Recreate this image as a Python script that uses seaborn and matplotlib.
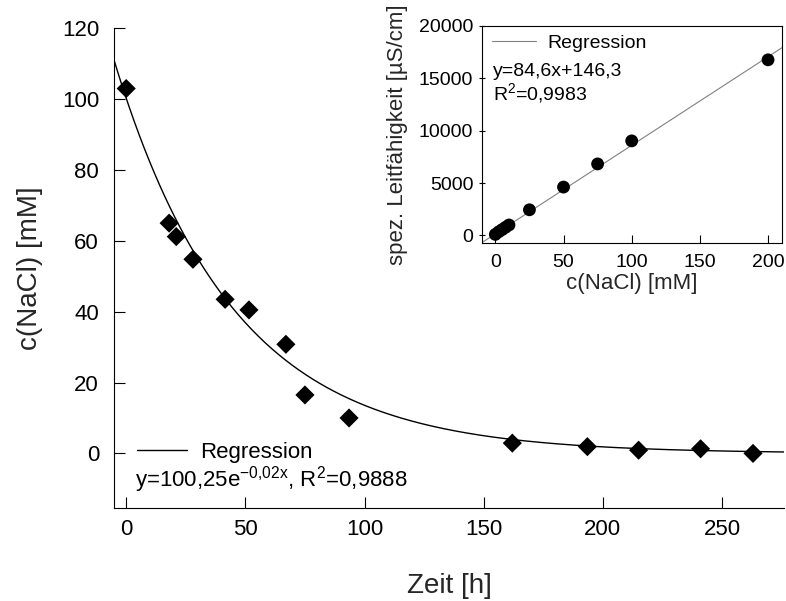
import numpy as np
import pandas as pd
import matplotlib
matplotlib.use("Agg")
import matplotlib.pyplot as plt
import seaborn as sns

# ---------------- data ----------------
# main panel: NaCl concentration over time
zeit_h = [0, 18, 21, 28, 41.5, 51.5, 67, 75, 93.5, 162, 193.5, 215, 241, 263]
c_nacl = [103, 65, 61.2, 54.8, 43.5, 40.5, 30.8, 16.5, 10.0, 2.9, 1.9, 0.9, 1.3, 0.0]
exp_a = 100.25      # regression y = a * exp(b x)
exp_b = -0.02
main_xticks = [0, 50, 100, 150, 200, 250]
main_yticks = [0, 20, 40, 60, 80, 100, 120]

# inset: calibration conductivity vs concentration
cal_c = [0, 2.5, 5, 7.5, 10, 25, 50, 75, 100, 200]
cal_g = [100, 350, 560, 780, 1000, 2450, 4620, 6830, 9030, 16770]
lin_m = 84.6        # regression y = m x + b
lin_b = 146.3
inset_xticks = [0, 50, 100, 150, 200]
inset_yticks = [0, 5000, 10000, 15000, 20000]

# ---------------- style ----------------
sns.set_style("ticks")
plt.rcParams["font.family"] = ["Liberation Sans", "DejaVu Sans"]
plt.rcParams["mathtext.fontset"] = "custom"
plt.rcParams["mathtext.rm"] = "Liberation Sans"
plt.rcParams["mathtext.it"] = "Liberation Sans:italic"
plt.rcParams["mathtext.default"] = "regular"
plt.rcParams["text.color"] = "black"

W, H = 786, 601
fig = plt.figure(figsize=(W / 100, H / 100), dpi=100)

def frac_box(l, t, r, b):
    return [l / W, 1 - b / H, (r - l) / W, (b - t) / H]

# ---------------- main axes ----------------
ax = fig.add_axes(frac_box(114.3, 28.3, 784, 508.3))
xfit = np.linspace(-5, 276, 400)
df_fit = pd.DataFrame({"x": xfit, "y": exp_a * np.exp(exp_b * xfit)})
sns.lineplot(data=df_fit, x="x", y="y", color="black", lw=1.0, ax=ax,
             label="Regression")
sns.scatterplot(x=zeit_h, y=c_nacl, marker="D", s=95, color="black",
                edgecolor="none", ax=ax, zorder=3)
ax.set_xlim(-5, 276)
ax.set_ylim(-15.5, 120)
ax.set_xticks(main_xticks)
ax.set_yticks(main_yticks)
ax.tick_params(axis="both", direction="in", length=8, width=0.8,
               labelsize=16, colors="black")
ax.tick_params(axis="x", pad=8)
ax.tick_params(axis="y", pad=11)
for side in ["top", "right"]:
    ax.spines[side].set_visible(False)
for side in ["left", "bottom"]:
    ax.spines[side].set_linewidth(0.8)
    ax.spines[side].set_color("black")
ax.set_xlabel("Zeit [h]", fontsize=20, va="center")
ax.set_ylabel("c(NaCl) [mM]", fontsize=20, va="center")
ax.xaxis.set_label_coords(0.5, -0.162)
ax.yaxis.set_label_coords(-0.126, 0.5)
leg = ax.legend(loc="center left", bbox_to_anchor=(0.034, 0.117),
                frameon=False, fontsize=16, handlelength=2.25,
                handletextpad=0.6, borderpad=0, borderaxespad=0)
ax.text(0.031, 0.045, r"y=100,25e$^{-0{,}02x}$, R$^{2}$=0,9888",
        transform=ax.transAxes, fontsize=16, va="baseline", ha="left")

# ---------------- inset ----------------
ax2 = fig.add_axes(frac_box(481.7, 26, 781.7, 243.3))
xl = np.linspace(-10, 210, 50)
df_lin = pd.DataFrame({"x": xl, "y": lin_m * xl + lin_b})
sns.lineplot(data=df_lin, x="x", y="y", color="#808080", lw=0.8, ax=ax2,
             label="Regression")
sns.scatterplot(x=cal_c, y=cal_g, marker="o", s=85, color="black",
                edgecolor="none", ax=ax2, zorder=3)
ax2.set_xlim(-10, 210)
ax2.set_ylim(-750, 20000)
ax2.set_xticks(inset_xticks)
ax2.set_yticks(inset_yticks)
ax2.tick_params(axis="x", direction="in", length=6, width=0.8,
                labelsize=14, pad=8, colors="black")
ax2.tick_params(axis="y", direction="inout", length=4, width=0.8,
                labelsize=14, pad=4, colors="black")
for side in ax2.spines.values():
    side.set_linewidth(0.8)
    side.set_color("black")
ax2.set_xlabel("c(NaCl) [mM]", fontsize=16, va="center")
ax2.set_ylabel("spez. Leitfähigkeit [µS/cm]", fontsize=16, va="center")
ax2.xaxis.set_label_coords(0.5, -0.183)
ax2.yaxis.set_label_coords(-0.282, 0.5)
ax2.legend(loc="center left", bbox_to_anchor=(0.034, 0.922),
           frameon=False, fontsize=14, handlelength=2.27,
           handletextpad=0.6, borderpad=0, borderaxespad=0)
ax2.text(0.038, 0.770, "y=84,6x+146,3", transform=ax2.transAxes,
         fontsize=14, va="baseline", ha="left")
ax2.text(0.038, 0.659, r"R$^{2}$=0,9983", transform=ax2.transAxes,
         fontsize=14, va="baseline", ha="left")

fig.savefig("out.png", dpi=100)
